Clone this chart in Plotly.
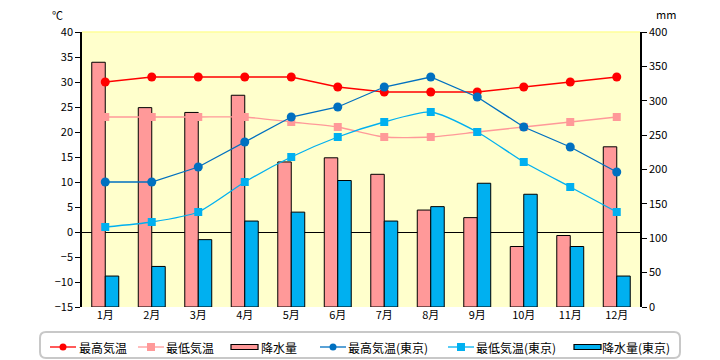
import plotly.graph_objects as go

months = ["1月", "2月", "3月", "4月", "5月", "6月", "7月", "8月", "9月", "10月", "11月", "12月"]
max_temp = [30, 31, 31, 31, 31, 29, 28, 28, 28, 29, 30, 31]
min_temp = [23, 23, 23, 23, 22, 21, 19, 19, 20, 21, 22, 23]
rain = [356, 290, 283, 308, 211, 217, 193, 141, 130, 88, 104, 233]
max_temp_tokyo = [10, 10, 13, 18, 23, 25, 29, 31, 27, 21, 17, 12]
min_temp_tokyo = [1, 2, 4, 10, 15, 19, 22, 24, 20, 14, 9, 4]
rain_tokyo = [45, 59, 98, 125, 138, 184, 125, 146, 180, 164, 88, 45]

series_names = ["最高気温", "最低気温", "降水量", "最高気温(東京)", "最低気温(東京)", "降水量(東京)"]

FONT = "Noto Sans CJK JP"
RED, PINK, BLUE, LBLUE = "#FF0000", "#FF9999", "#0070C0", "#00B0F0"

W, H = 720, 360
ML, MR, MT, MB = 82, 80, 32, 53
PW, PH = W - ML - MR, H - MT - MB


def px(x):
    return (x - ML) / PW


def py(y):
    return (H - MB - y) / PH


fig = go.Figure()

fig.add_trace(go.Scatter(x=months, y=max_temp, name=series_names[0], yaxis="y2", mode="lines+markers",
                         line=dict(color=RED, width=1.3),
                         marker=dict(symbol="circle", size=9, color=RED)))
fig.add_trace(go.Scatter(x=months, y=min_temp, name=series_names[1], yaxis="y2", mode="lines+markers",
                         line=dict(color=PINK, width=1.3, shape="spline", smoothing=0.6),
                         marker=dict(symbol="square", size=8, color=PINK)))
fig.add_trace(go.Bar(x=months, y=rain, name=series_names[2], yaxis="y",
                     marker=dict(color=PINK, line=dict(color="#000000", width=1))))
fig.add_trace(go.Scatter(x=months, y=max_temp_tokyo, name=series_names[3], yaxis="y2", mode="lines+markers",
                         line=dict(color=BLUE, width=1.3),
                         marker=dict(symbol="circle", size=9, color=BLUE)))
fig.add_trace(go.Scatter(x=months, y=min_temp_tokyo, name=series_names[4], yaxis="y2", mode="lines+markers",
                         line=dict(color=LBLUE, width=1.3, shape="spline", smoothing=0.6),
                         marker=dict(symbol="square", size=8, color=LBLUE)))
fig.add_trace(go.Bar(x=months, y=rain_tokyo, name=series_names[5], yaxis="y",
                     marker=dict(color=LBLUE, line=dict(color="#000000", width=1))))

# ---- manual legend (box, symbols, texts) ----
shapes = [dict(type="line", xref="paper", yref="paper", x0=0, x1=1, y0=1, y1=1,
               line=dict(color="#FFFF99", width=1.5))]
annotations = []

bx0, bx1, by0, by1, r = 40, 680, 332, 358, 6
rx, ry = r / PW, r / PH
X0, X1, Y0, Y1 = px(bx0), px(bx1), py(by1), py(by0)
path = (f"M {X0+rx},{Y0} L {X1-rx},{Y0} Q {X1},{Y0} {X1},{Y0+ry} L {X1},{Y1-ry} "
        f"Q {X1},{Y1} {X1-rx},{Y1} L {X0+rx},{Y1} Q {X0},{Y1} {X0},{Y1-ry} "
        f"L {X0},{Y0+ry} Q {X0},{Y0} {X0+rx},{Y0} Z")
shapes.append(dict(type="path", xref="paper", yref="paper", path=path,
                   line=dict(color="#C8C8C8", width=2), fillcolor="#FFFFFF", layer="below"))

cy = 347
legend_items = [
    # (kind, color, symbol start x, text start x)
    ("line-circle", RED, 50, 77),
    ("line-square", PINK, 138, 164),
    ("bar", PINK, 231, 259),
    ("line-circle", BLUE, 320, 346),
    ("line-square", LBLUE, 448, 474),
    ("bar", LBLUE, 574, 600),
]
for (kind, color, sx, tx), name in zip(legend_items, series_names):
    if kind.startswith("line"):
        shapes.append(dict(type="line", xref="paper", yref="paper", x0=px(sx), x1=px(sx + 26),
                           y0=py(cy), y1=py(cy), line=dict(color=color, width=1.3)))
        mx = sx + 13
        if kind == "line-circle":
            shapes.append(dict(type="circle", xref="paper", yref="paper",
                               x0=px(mx - 3.5), x1=px(mx + 3.5), y0=py(cy + 3.5), y1=py(cy - 3.5),
                               fillcolor=color, line=dict(color=color, width=0)))
        else:
            shapes.append(dict(type="rect", xref="paper", yref="paper",
                               x0=px(mx - 4), x1=px(mx + 4), y0=py(cy + 4), y1=py(cy - 4),
                               fillcolor=color, line=dict(color=color, width=0)))
    else:
        shapes.append(dict(type="rect", xref="paper", yref="paper",
                           x0=px(sx), x1=px(sx + 27), y0=py(cy + 2.5), y1=py(cy - 2.5),
                           fillcolor=color, line=dict(color="#000000", width=1.2)))
    annotations.append(dict(text=name, xref="paper", yref="paper", x=px(tx), y=py(cy),
                            xanchor="left", yanchor="middle", showarrow=False,
                            font=dict(family=FONT, size=12, color="#000000")))

annotations.append(dict(text="℃", xref="paper", yref="paper", x=px(57), y=py(15),
                        xanchor="center", yanchor="middle", showarrow=False, font=dict(size=11)))
annotations.append(dict(text="mm", xref="paper", yref="paper", x=px(666), y=py(14),
                        xanchor="center", yanchor="middle", showarrow=False, font=dict(size=11)))

fig.update_layout(
    width=W, height=H,
    margin=dict(l=ML, r=MR, t=MT, b=MB, autoexpand=False),
    paper_bgcolor="#FFFFFF",
    plot_bgcolor="#FFFFCC",
    font=dict(family=FONT, size=11, color="#000000"),
    barmode="group", bargap=0.42, bargroupgap=0,
    showlegend=False,
    xaxis=dict(showgrid=False, showline=False, ticks="", tickfont=dict(size=11),
               range=[-0.5, 11.5], autorange=False),
    yaxis=dict(side="right", range=[0, 400], dtick=50, showgrid=False, zeroline=False,
               showline=True, linecolor="#000000", linewidth=1.5, ticks="outside", ticklen=5,
               tickcolor="#000000"),
    yaxis2=dict(side="left", overlaying="y", range=[-15, 40], dtick=5, showgrid=False,
                zeroline=True, zerolinecolor="#000000", zerolinewidth=1.3,
                showline=True, linecolor="#000000", linewidth=1.5, ticks="outside", ticklen=5,
                tickcolor="#000000"),
    shapes=shapes,
    annotations=annotations,
)

fig.write_html("out.html", config={"displayModeBar": False},
               post_script="document.body.style.margin='0';")
